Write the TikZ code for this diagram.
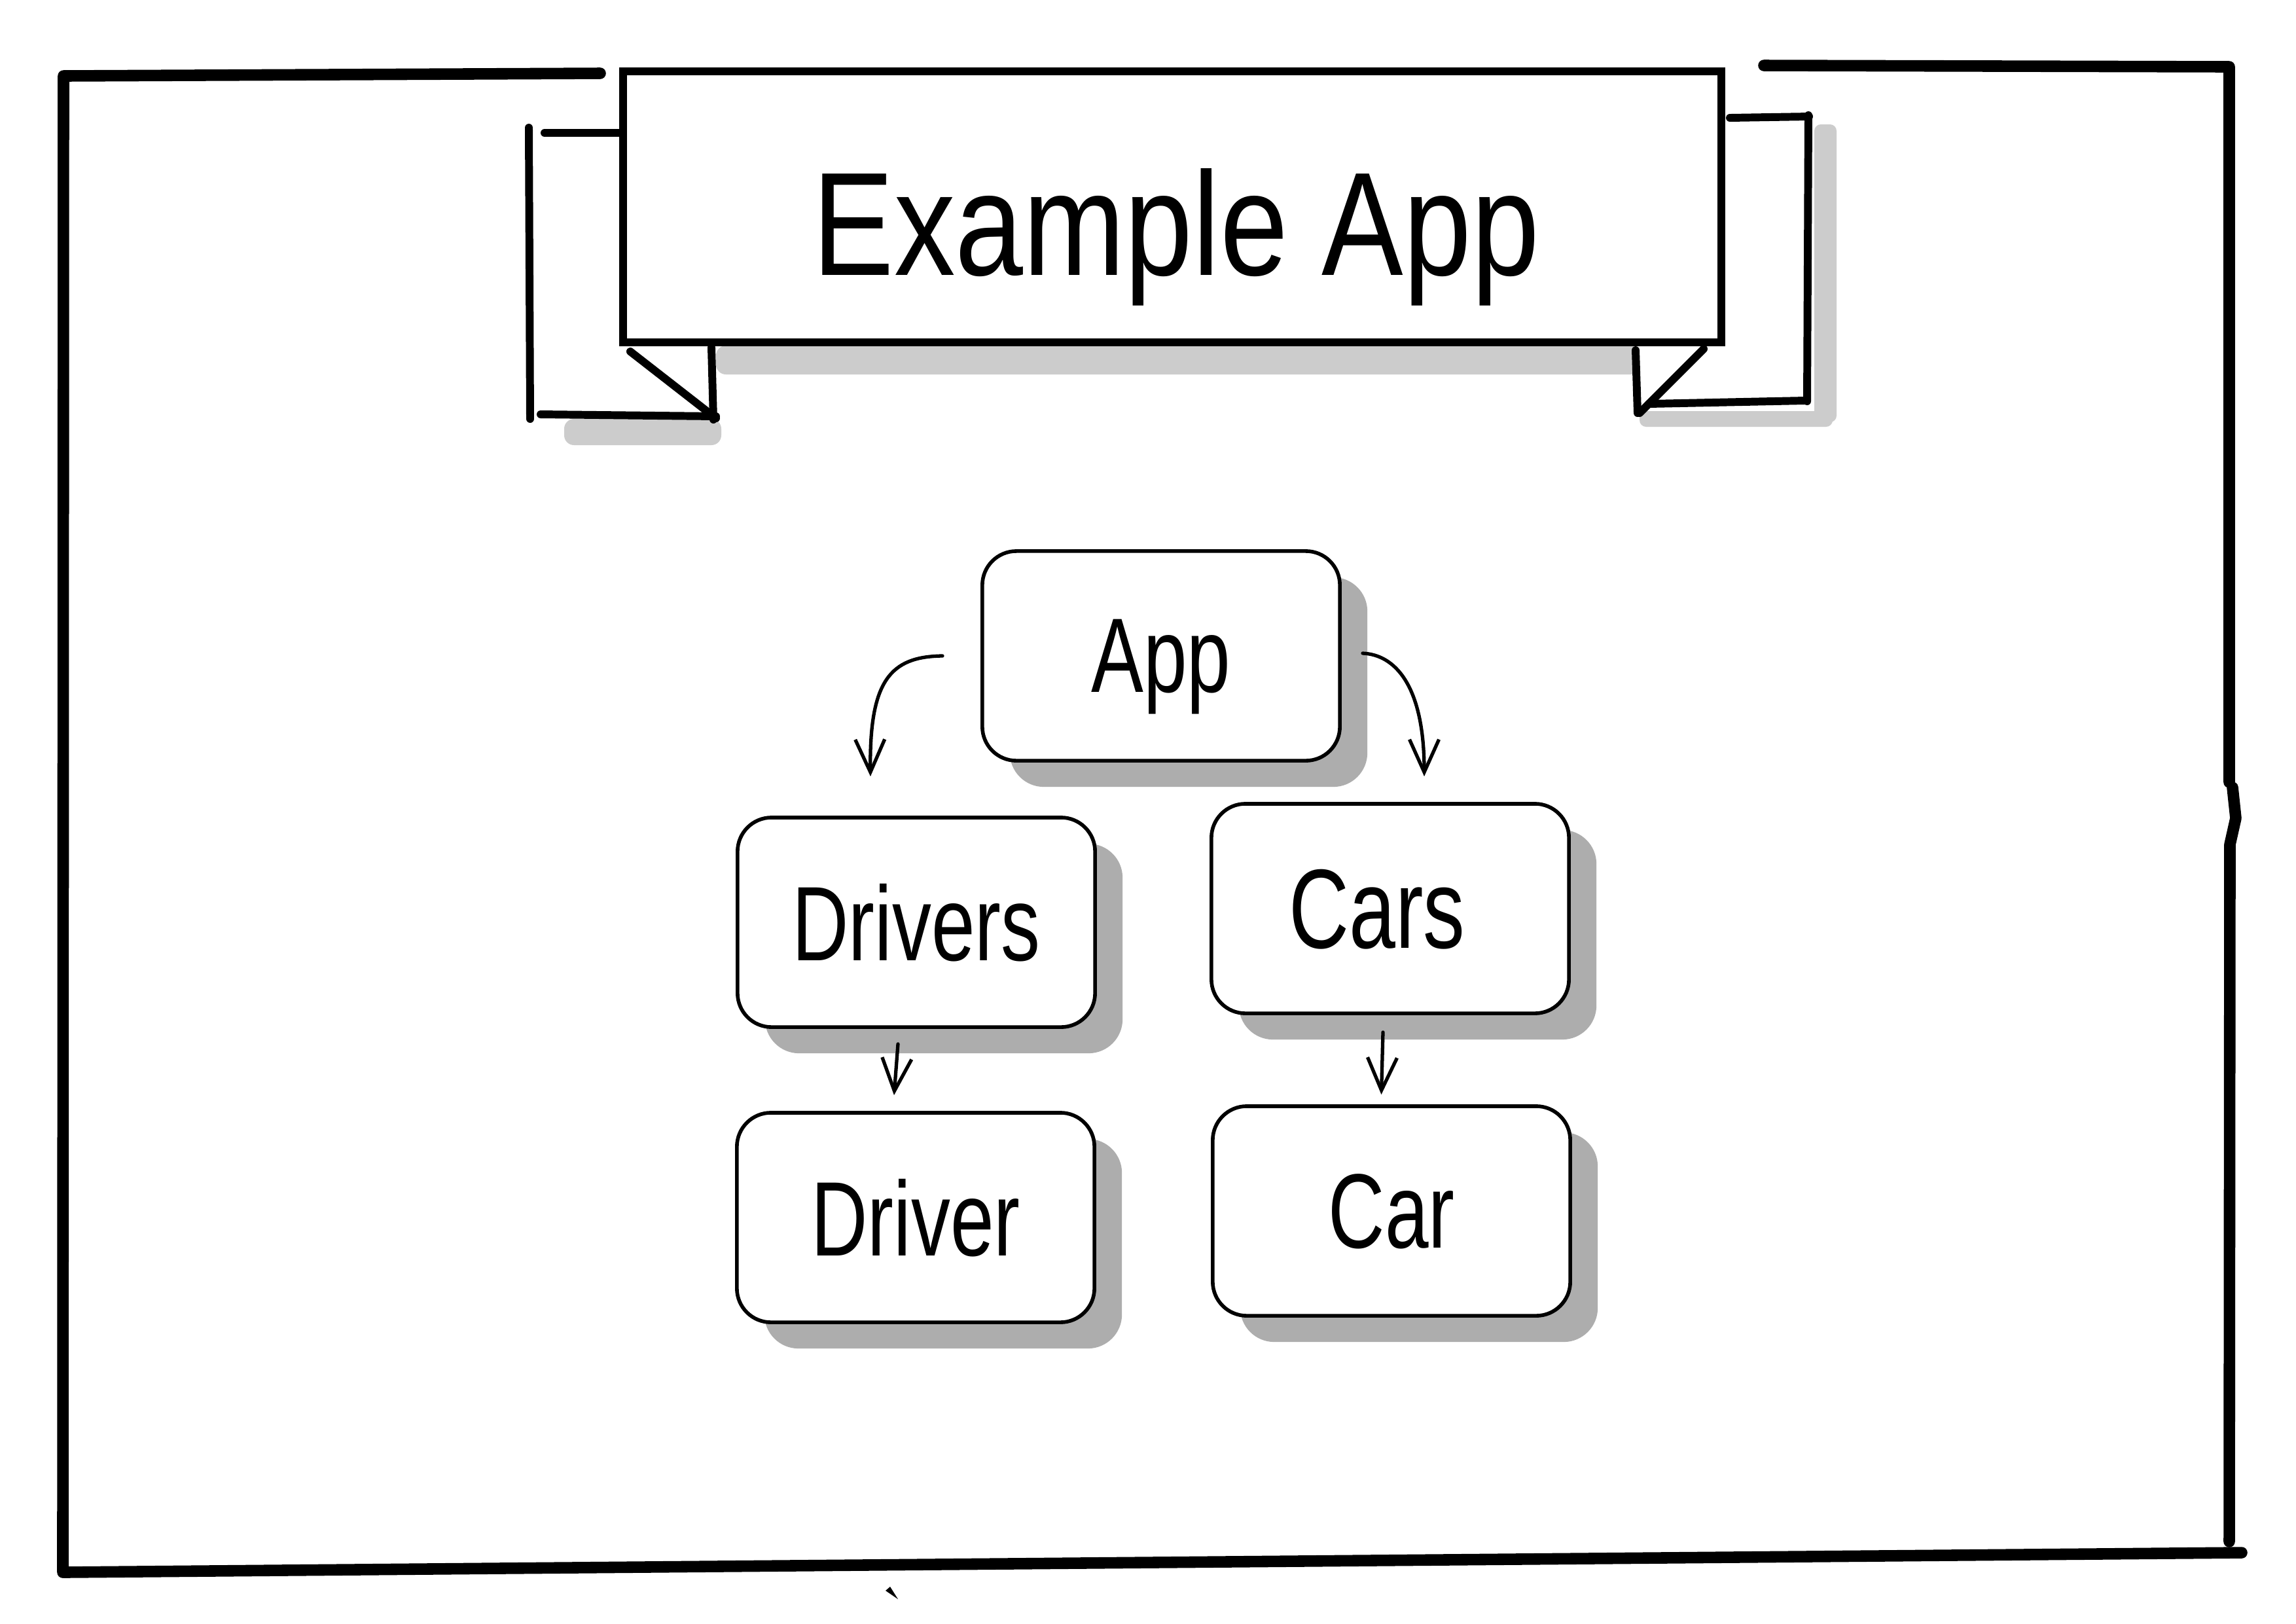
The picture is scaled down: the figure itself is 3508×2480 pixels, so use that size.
\documentclass[tikz,border=0pt]{standalone}
\usepackage{fontspec}
\usetikzlibrary{arrows.meta,shadows}
\newfontfamily\titlefont[FakeStretch=0.83]{Liberation Sans}
\newfontfamily\boxfont[FakeStretch=0.74]{Liberation Sans}
\begin{document}
\begin{tikzpicture}[x=0.01cm, y=-0.01cm,
  frameline/.style={line width=5pt, line cap=round, line join=round},
  bannerline/.style={line width=3.4pt, line cap=round, line join=round},
  bannershade/.style={fill=black!20, draw=none},
  stage/.style={draw, line width=1.6pt, rounded corners=0.52cm, fill=white,
    minimum width=5.46cm, minimum height=3.2cm, inner sep=0pt, text depth=0pt,
    font=\boxfont\fontsize{46}{50}\selectfont,
    general shadow={fill=black!32, shadow xshift=0.42cm, shadow yshift=-0.4cm}},
  arr/.style={line width=1.5pt, line cap=round,
    -{Straight Barb[length=0.5cm, width=0.45cm]}},
]
\fill[white] (0,0) rectangle (3508,2480);
\useasboundingbox (0,0) rectangle (3508,2480);

% outer frame
\draw[frameline] (917,112) -- (97,116) -- (96,2402);
\draw[frameline] (98,2402) -- (3425,2372);
\draw[frameline] (2695,100) -- (3406,102) -- (3406,1195);
\draw[frameline] (3411,1203) -- (3416,1250) -- (3407,1290) -- (3406,2355);
\fill (1353,2430) -- (1360,2424) -- (1372,2443) -- cycle;

% banner shadows
\fill[bannershade, rounded corners=0.15cm] (1094,528) rectangle (2505,572);
\fill[bannershade, rounded corners=0.1cm] (2772,190) rectangle (2806,645);
\fill[bannershade, rounded corners=0.15cm] (862,640) rectangle (1102,680);
\fill[bannershade, rounded corners=0.1cm] (2505,628) rectangle (2800,652);

% banner tails
\draw[bannerline] (808,195) -- (810,640);
\draw[bannerline] (832,203) -- (950,203);
\draw[bannerline] (826,633) -- (1094,636);
\draw[bannerline] (1087,531) -- (1090,641);
\draw[bannerline] (963,537) -- (1094,639);
\draw[bannerline] (2763,176) -- (2761,613);
\draw[bannerline] (2643,180) -- (2764,178);
\draw[bannerline] (2519,617) -- (2757,612);
\draw[bannerline] (2499,535) -- (2502,631);
\draw[bannerline] (2603,533) -- (2505,631);

% banner
\node[draw, line width=3.4pt, fill=white, minimum width=16.77cm,
  minimum height=4.14cm, inner sep=0pt] (banner) at (1791,316) {};
\node[anchor=base, inner sep=0pt, font=\titlefont\fontsize{64}{70}\selectfont]
  (title) at (1797,420) {Example App};

% boxes
\node[stage] (app) at (1774,1002) {App};
\node[stage] (drivers) at (1400,1409) {Drivers};
\node[stage, font=\boxfont\fontsize{49}{54}\selectfont] (cars) at (2124,1388) {\hspace*{-0.4cm}Cars};
\node[stage] (driver) at (1399,1860) {Driver};
\node[stage] (car) at (2126,1850) {Car};

% connectors
\draw[arr] ([xshift=-0.58cm]app.west) .. controls (1360,1003) and (1328,1040) ..
  ([xshift=-0.7cm, yshift=0.6cm]drivers.north);
\draw[arr] ([xshift=0.32cm, yshift=0.04cm]app.east) .. controls (2130,1000) and (2176,1045) ..
  ([xshift=0.52cm, yshift=0.39cm]cars.north);
\draw[arr] ([xshift=-0.28cm, yshift=-0.23cm]drivers.south) --
  ([xshift=-0.33cm, yshift=0.24cm]driver.north);
\draw[arr] ([xshift=-0.11cm, yshift=-0.26cm]cars.south) --
  ([xshift=-0.155cm, yshift=0.15cm]car.north);
\end{tikzpicture}
\end{document}
